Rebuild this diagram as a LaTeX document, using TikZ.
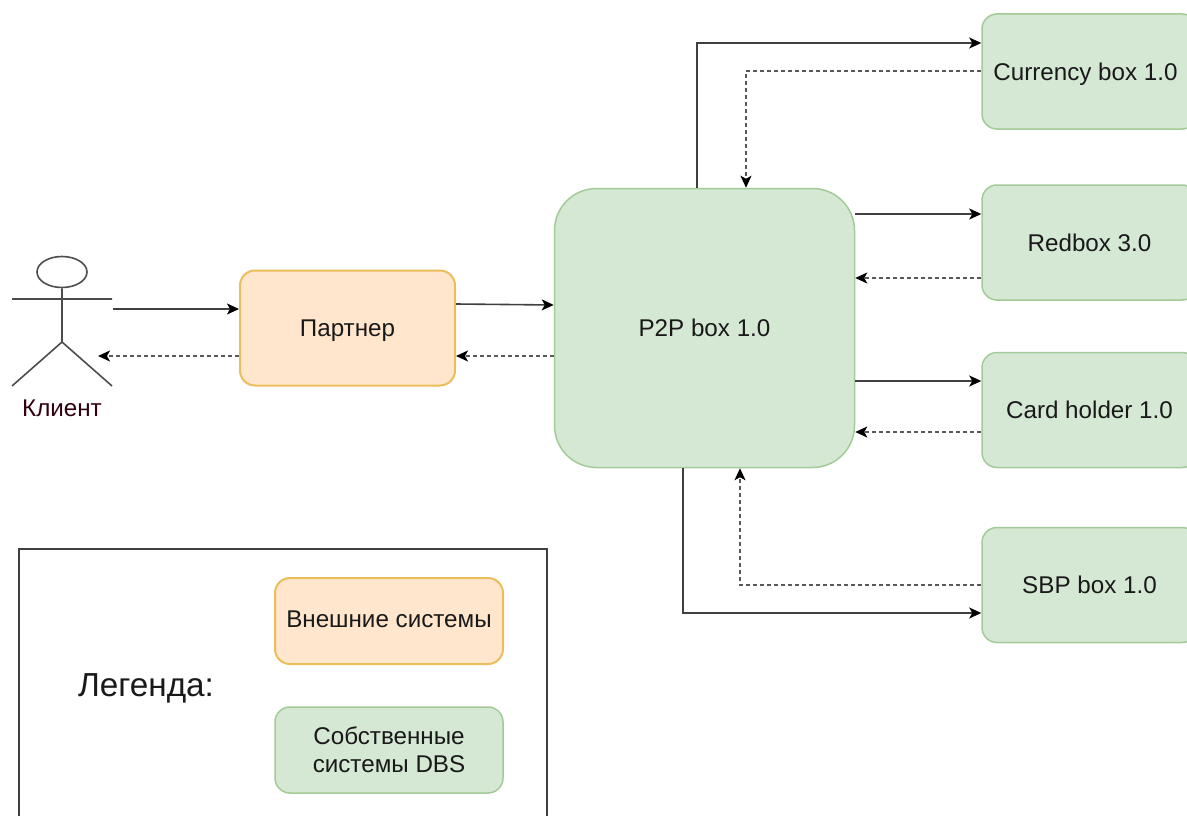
\documentclass[tikz,border=0pt]{standalone}
\usepackage{fontspec}
\setmainfont{Liberation Sans}
\usetikzlibrary{arrows.meta,shapes.geometric}
\begin{document}
\begin{tikzpicture}[x=1pt,y=-1pt,
 gbox/.style={draw=gborder,fill=gfill,rounded corners=15pt,line width=1.5pt,inner sep=0pt,align=center,font=\fontsize{24.2}{28}\selectfont,text=black!90},
 obox/.style={draw=oborder,fill=ofill,rounded corners=15pt,line width=2pt,inner sep=0pt,align=center,font=\fontsize{24.2}{28}\selectfont,text=black!90},
 sol/.style={draw=black!75,line width=1.6pt,-{Stealth[length=12pt,width=11pt,inset=3pt,color=black]}},
 dsh/.style={draw=black!65,line width=1.4pt,dash pattern=on 4pt off 3pt,-{Stealth[length=12pt,width=11pt,inset=3pt,color=black]}},
 act/.style={draw=black!70,line width=1.6pt},
 lab/.style={inner sep=0pt,font=\fontsize{24.2}{28}\selectfont,text=black!90}]
\definecolor{gfill}{HTML}{D5E8D4}\definecolor{gborder}{HTML}{A3CB98}
\definecolor{ofill}{HTML}{FFE6CC}\definecolor{oborder}{HTML}{EBBE5C}
\useasboundingbox (0,0) rectangle (1187,816);
\node[gbox,minimum width=300pt,minimum height=279pt,rounded corners=42pt] (p2p) at (704.5,328) {P2P box 1.0};
\node[gbox,minimum width=215pt,minimum height=115pt] (cur) at (1089.5,71.5) {\hspace*{-8pt}\raisebox{-2.5pt}[\height][\depth]{Currency box 1.0}};
\node[gbox,minimum width=215pt,minimum height=115pt] (red) at (1089.5,242.5) {Redbox 3.0};
\node[gbox,minimum width=215pt,minimum height=115pt] (card) at (1089.5,410) {Card holder 1.0};
\node[gbox,minimum width=215pt,minimum height=115pt] (sbp) at (1089.5,585) {SBP box 1.0};
\node[obox,minimum width=215pt,minimum height=115pt] (par) at (347.5,328) {\raisebox{-3pt}[\height][\depth]{Партнер}};
\node[draw=black!75,line width=2pt,minimum width=528pt,minimum height=290pt,inner sep=0pt] (leg) at (282.5,694) {};
\node[obox,minimum width=228pt,minimum height=86pt] (ext) at (389,621) {\raisebox{1.5pt}[\height][\depth]{Внешние системы}};
\node[gbox,minimum width=228pt,minimum height=86pt] (own) at (389,750) {Собственные\\системы DBS};
\node[lab,font=\fontsize{33.3}{38}\selectfont] (legt) at (146,688) {Легенда:};
\node[lab,text=black!75!purple] (cli) at (62,408) {Клиент};
\node[draw=black!70,line width=1.6pt,ellipse,minimum width=50pt,minimum height=31pt,inner sep=0pt] (head) at (62,272) {};
\coordinate (h2) at (62,342);
\coordinate (al) at (12,299); \coordinate (ar) at (112,299);
\coordinate (fl) at (12,386); \coordinate (fr) at (112,386);
\draw[act] (head.south) -- (h2) (al) -- (ar) (fl) -- (h2) -- (fr);
\coordinate (c1) at (113,309); \coordinate (c2) at (98,356);
\draw[sol] (c1) -- (par.west |- c1);
\draw[dsh] (par.west |- c2) -- (c2);
\coordinate (d1) at (0,304); \coordinate (d2) at (0,356); \coordinate (d3) at (0,305);
\draw[sol] (par.east |- d1) -- (p2p.west |- d3);
\draw[dsh] (p2p.west |- d2) -- (par.east |- d2);
\coordinate (t1) at (697,43); \coordinate (t2) at (746,71);
\draw[sol] (p2p.north -| t1) |- (cur.west |- t1);
\draw[dsh] (cur.west |- t2) -- (t2) -- (p2p.north -| t2);
\coordinate (r1) at (0,214); \coordinate (r2) at (0,278);
\draw[sol] (p2p.east |- r1) -- (red.west |- r1);
\draw[dsh] (red.west |- r2) -- (p2p.east |- r2);
\coordinate (k1) at (0,381); \coordinate (k2) at (0,432);
\draw[sol] (p2p.east |- k1) -- (card.west |- k1);
\draw[dsh] (card.west |- k2) -- (p2p.east |- k2);
\coordinate (s1) at (683,613); \coordinate (s2) at (740,585);
\draw[sol] (p2p.south -| s1) |- (sbp.west |- s1);
\draw[dsh] (sbp.west |- s2) -- (s2) -- (p2p.south -| s2);
\end{tikzpicture}
\end{document}
